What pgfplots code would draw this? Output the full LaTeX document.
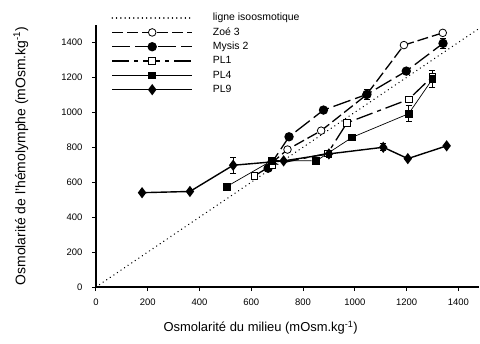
\documentclass[border=0pt]{standalone}
\usepackage{pgfplots}
\pgfplotsset{compat=1.18}
\usepackage{fontspec}
\setmainfont{Liberation Sans}
\usetikzlibrary{calc}
\begin{document}
\begin{tikzpicture}
\begin{axis}[
  scale only axis,
  width=383bp, height=262bp,
  xmin=0, xmax=1480, ymin=0, ymax=1500,
  axis lines=left,
  axis line style={line width=1.2bp,-},
  xtick={0,200,...,1400}, ytick={0,200,...,1400},
  tick style={line width=1bp,black},
  tick align=outside,
  major tick length=4bp,
  /pgf/number format/assume math mode=true,
  /pgf/number format/1000 sep={},
  tick label style={font=\fontsize{9.5}{11}\selectfont},
  xticklabel style={yshift=-4bp},
  yticklabel style={xshift=-6bp},
  xlabel={Osmolarité du milieu (mOsm.kg\textsuperscript{-1})},
  ylabel={Osmolarité de l'hémolymphe (mOsm.kg\textsuperscript{-1})},
  label style={font=\fontsize{13}{15}\selectfont},
  xlabel style={at={(axis description cs:0.43,0)}, anchor=center, yshift=-41bp},
  ylabel style={at={(axis description cs:-0.196,0.5)}, anchor=center, rotate=0, font=\fontsize{14}{16}\selectfont},
  clip=false,
  legend style={at={(axis description cs:0.04,1.047)}, anchor=north west, draw=none, fill=none,
    font=\fontsize{10.5}{12}\selectfont, row sep=3.8bp, inner sep=0pt,
    nodes={inner xsep=20bp, inner ysep=0pt, text height=8bp, text depth=2.5bp}},
  legend cell align=left,
  legend image code/.code={\draw[mark repeat=2,mark phase=2] plot coordinates {(0bp,0bp)(40bp,0bp)(80bp,0bp)};},
  error bars/y dir=both, error bars/y explicit,
  error bars/error mark options={rotate=90, mark size=3bp, line width=0.8bp},
  error bars/error bar style={line width=0.8bp},
]
\coordinate (ll) at (rel axis cs:0,0);
\coordinate (ur) at (rel axis cs:1,1);
\addplot[black, line width=1.4bp, dash pattern=on 0.1bp off 4.2bp, line cap=round, no marks, forget plot]
  coordinates {(0,0) (1480,1480)};
\addlegendimage{black, line width=1.4bp, dash pattern=on 0.1bp off 4.2bp, line cap=round}
\addlegendentry{ligne isoosmotique}
% Zoe 3
\addplot[black, line width=1.3bp, dash pattern=on 11bp off 4bp, mark=*, mark options={solid, fill=white, line width=0.8bp}, mark size=3.8bp]
  coordinates {(675,705) (740,787) (870,895) (1045,1100) (1190,1385) (1340,1455)};
\addlegendentry{Zoé 3}
% Mysis 2
\addplot[black, line width=1.3bp, dash pattern=on 18bp off 5bp, mark=*, mark options={solid, fill=black}, mark size=4bp]
  coordinates {(665,680) (746,860) (879,1013) (1047,1103) +- (0,30) (1199,1236) (1341,1395) +- (0,30)};
\addlegendentry{Mysis 2}
% PL1
\addplot[black, line width=1.3bp, dash pattern=on 17bp off 5bp on 4bp off 5bp, mark=square*, mark options={solid, fill=white, line width=0.8bp}, mark size=3.4bp]
  coordinates {(612,636) (682,700) (895,765) (970,940) (1208,1074) (1300,1205)};
\addlegendentry{PL1}
% PL4
\addplot[black, line width=0.7bp, mark=square*, mark options={solid, fill=black}, mark size=3.4bp]
  coordinates {(505,575) (680,724) (851,722) (990,857) (1208,992) +- (0,45) (1300,1190) +- (0,50)};
\addlegendentry{PL4}
% PL9
\addplot[black, line width=1.4bp, mark=diamond*, mark options={solid, fill=black}, mark size=4.5bp]
  coordinates {(178,540) (363,547) (530,697) +- (0,45) (725,722) (900,762) +- (0,20) (1110,800) +- (0,20) (1205,735) (1355,808)};
\addlegendentry{PL9}
\end{axis}
\pgfresetboundingbox
\path ($(ll)+(-96bp,-57bp)$) rectangle ($(ur)+(1bp,25bp)$);
\end{tikzpicture}
\end{document}
